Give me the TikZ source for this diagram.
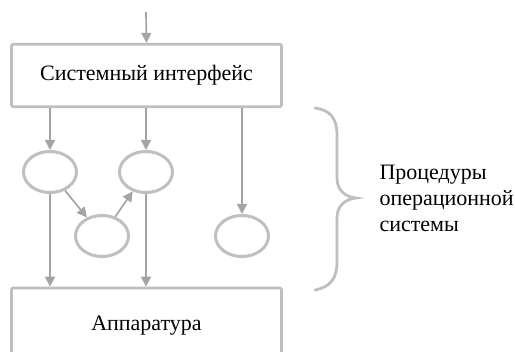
\documentclass[tikz,border=0pt]{standalone}
\usepackage{fontspec}
\setmainfont{Liberation Serif}
\usetikzlibrary{shapes.geometric,arrows.meta}

\definecolor{boxgray}{HTML}{BFBFBF}
\definecolor{arrowgray}{HTML}{A5A5A5}

\tikzset{
  block/.style={draw=boxgray, line width=2.8pt, rounded corners=2pt,
    minimum width=270pt, font=\fontsize{22}{26}\selectfont},
  proc/.style={ellipse, draw=boxgray, line width=3pt,
    minimum width=53pt, minimum height=41pt, inner sep=0pt},
  flow/.style={draw=arrowgray, line width=1.7pt,
    -{Triangle[width=10pt,length=10pt]}}
}

\begin{document}
\begin{tikzpicture}[x=1pt,y=-1pt]

\useasboundingbox (0,0) rectangle (515,352);

% layers
\node[block, minimum height=62.5pt] (sys) at (146.5,75.5) {Системный интерфейс};
\node[block, minimum height=76pt] (hw) at (146.5,326) {Аппаратура};

% procedures
\node[proc] (p1) at (50,172) {};
\node[proc] (p2) at (146,172) {};
\node[proc] (p3) at (102,236) {};
\node[proc] (p4) at (242,236) {};

% entry from above
\coordinate (in) at (146,12);
\draw[flow] (in) -- (sys.north);

% calls from the interface
\draw[flow] (sys.south -| p1) -- (p1);
\draw[flow] (sys.south -| p2) -- (p2);
\draw[flow] (sys.south -| p4) -- (p4);

% calls between procedures
\draw[flow] (p1) -- (p3);
\draw[flow] (p3) -- (p2);

% down to the hardware
\draw[flow] (p1) -- (hw.north -| p1);
\draw[flow] (p2) -- (hw.north -| p2);

% brace round the procedures
\draw[boxgray, line width=2.8pt, line cap=round]
  (315,108) .. controls (330,110) and (337,118) .. (337,135)
  -- (337,178) .. controls (337,190) and (345,197) .. (356,198)
  .. controls (345,199) and (337,206) .. (337,218)
  -- (337,262) .. controls (337,279) and (330,287) .. (315,290);

\node[anchor=west, align=left, font=\fontsize{22}{26}\selectfont]
  (osproc) at (376,198) {Процедуры\\операционной\\системы};

\end{tikzpicture}
\end{document}
